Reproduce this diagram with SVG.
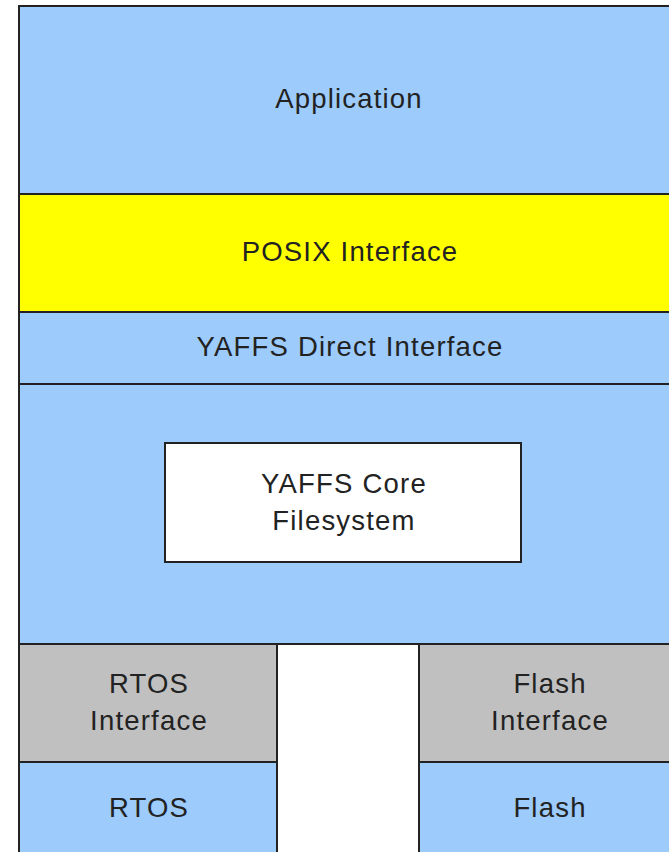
<svg xmlns="http://www.w3.org/2000/svg" width="669" height="852" viewBox="0 0 669 852">
<style>
.b{fill:#9dcbfb;stroke:#222;stroke-width:2}
.y{fill:#ffff00;stroke:#222;stroke-width:2}
.g{fill:#c0c0c0;stroke:#222;stroke-width:2}
.w{fill:#ffffff;stroke:#222;stroke-width:2}
text{font-family:"Liberation Sans",Arial,sans-serif;font-size:27.5px;fill:#222;text-anchor:middle;letter-spacing:1.2px}
</style>
<rect x="0" y="0" width="669" height="852" fill="#ffffff"/>
<g id="application"><rect class="b" x="19" y="6" width="660" height="188"/><text x="349" y="108">Application</text></g>
<g id="posix"><rect class="y" x="19" y="194" width="660" height="118"/><text x="350" y="261">POSIX Interface</text></g>
<g id="direct"><rect class="b" x="19" y="312" width="660" height="72"/><text x="350" y="356">YAFFS Direct Interface</text></g>
<g id="corearea"><rect class="b" x="19" y="384" width="660" height="260"/></g>
<g id="core"><rect class="w" x="165" y="443" width="356" height="119"/><text x="344" y="493">YAFFS Core</text><text x="344" y="530">Filesystem</text></g>
<g id="rtosif"><rect class="g" x="19" y="644" width="258" height="118"/><text x="149" y="693">RTOS</text><text x="149" y="730">Interface</text></g>
<g id="gap"><rect class="w" x="277" y="644" width="142" height="220"/></g>
<g id="flashif"><rect class="g" x="419" y="644" width="260" height="118"/><text x="550" y="693">Flash</text><text x="550" y="730">Interface</text></g>
<g id="rtos"><rect class="b" x="19" y="762" width="258" height="100"/><text x="149" y="817">RTOS</text></g>
<g id="flash"><rect class="b" x="419" y="762" width="260" height="100"/><text x="550" y="817">Flash</text></g>
<g id="connectors"></g>
</svg>
